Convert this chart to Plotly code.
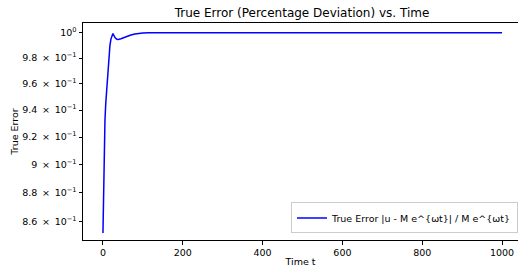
import plotly.graph_objects as go
import math

# Data
time_t = [0, 1.5, 3, 5, 7, 10, 12.5, 15, 17.5, 20, 22.5, 25, 28, 31, 35, 39, 45, 52, 60, 70, 80, 90, 100, 115, 1000]
true_error = [0.852, 0.881, 0.913, 0.932, 0.945, 0.958, 0.972, 0.982, 0.990, 0.995, 0.998, 0.9995, 0.9975, 0.9958, 0.9949, 0.9947,
              0.9953, 0.9962, 0.9972, 0.9983, 0.9991, 0.9997, 0.9999, 1.0, 1.0]

x_ticks = [0, 200, 400, 600, 800, 1000]
y_ticks = [0.86, 0.88, 0.90, 0.92, 0.94, 0.96, 0.98, 1.0]
y_ticktext = ["8.6\u2002×\u200210<sup>−1</sup>", "8.8\u2002×\u200210<sup>−1</sup>", "9\u2002×\u200210<sup>−1</sup>",
              "9.2\u2002×\u200210<sup>−1</sup>", "9.4\u2002×\u200210<sup>−1</sup>", "9.6\u2002×\u200210<sup>−1</sup>",
              "9.8\u2002×\u200210<sup>−1</sup>", "10<sup>0</sup>"]

font = "DejaVu Sans"

fig = go.Figure()
fig.add_trace(go.Scatter(
    x=time_t, y=true_error, mode="lines",
    line=dict(color="#0000ff", width=1.5),
    name="True Error |u - M e^{ωt}| / M e^{ωt}",
))

fig.update_layout(
    width=518, height=272,
    margin=dict(l=83, r=0, t=23, b=32),
    paper_bgcolor="white", plot_bgcolor="white",
    font=dict(family=font, size=9.5, color="black"),
    title=dict(text="True Error (Percentage Deviation) vs. Time", x=302/518, xanchor="center",
               y=1 - 13/272, yanchor="middle", font=dict(size=12, family=font, color="black")),
    showlegend=True,
    legend=dict(x=1.0, xanchor="right", y=0.03, yanchor="bottom",
                bordercolor="#cccccc", borderwidth=1, bgcolor="rgba(255,255,255,0.8)",
                font=dict(size=9.5, family=font), itemwidth=30),
)

fig.update_xaxes(
    range=[-50, 1040], tickvals=x_ticks, ticktext=[str(v) for v in x_ticks],
    showgrid=False, zeroline=False, showline=True, linecolor="black", linewidth=1,
    mirror=True, ticks="outside", ticklen=3.5, tickcolor="black", tickfont=dict(size=9.5),
    title=dict(text="Time t", font=dict(size=9.5, family=font), standoff=1),
)
fig.update_yaxes(
    type="log", range=[math.log10(0.8472), math.log10(1.0079)],
    tickvals=y_ticks, ticktext=y_ticktext, tickfont=dict(size=9.5),
    showgrid=False, zeroline=False, showline=True, linecolor="black", linewidth=1,
    ticks="outside", ticklen=3.5, tickcolor="black",
    title=dict(text="True Error", font=dict(size=9.5, family=font), standoff=1),
)

fig.write_html("out.html", config={"displayModeBar": False},
               post_script="document.body.style.margin='0';document.body.style.overflow='hidden';")
